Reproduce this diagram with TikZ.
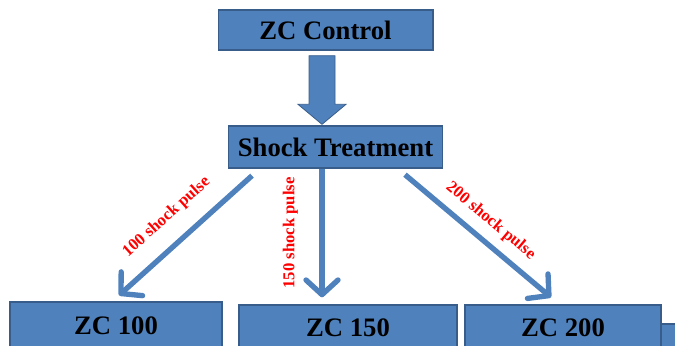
\documentclass[tikz,border=0pt]{standalone}
\usepackage{fontspec}
\setmainfont{Liberation Serif}
\usetikzlibrary{arrows.meta,calc}
\definecolor{boxblue}{RGB}{79,129,189}
\definecolor{edgeblue}{RGB}{56,93,138}
\tikzstyle{boxstyle} = [ font={\bfseries\fontsize{20}{24}\selectfont}, shape=rectangle, text=black, draw=edgeblue, line width=1pt, fill=boxblue, inner sep=0pt, align=center]
\tikzstyle{armstyle} = [ draw=boxblue, line width=4pt, -{Straight Barb[length=11pt,width=24pt,line width=4pt,round]}]
\tikzstyle{pulsestyle} = [ font={\bfseries\fontsize{12.5}{14}\selectfont}, text=red, inner sep=0pt]

\begin{document}
\begin{tikzpicture}[x=0.75pt,y=-0.75pt]
\clip (0,0) rectangle (675,346);

\node[boxstyle, minimum width=161pt, minimum height=30pt] (zcc) at (325.5,30) {ZC Control};
\node[boxstyle, minimum width=160.5pt, minimum height=31.5pt] (shock) at (335.5,147) {Shock Treatment};

\node[boxstyle, minimum width=159pt, minimum height=36pt] (zc100) at (116,326) {ZC 100};
\node[boxstyle, minimum width=163.5pt, minimum height=34.5pt] (zc150) at (348,328) {ZC 150};
\node[boxstyle, minimum width=147pt, minimum height=34.5pt] (zc200) at (563,328) {ZC 200};
\draw[draw=edgeblue, line width=1pt, fill=boxblue] (661,324) rectangle (680,352);

% block arrow
\coordinate (top) at ($(zcc.south)+(-3.5,5)$);
\coordinate (tip) at ($(shock.north)+(-13.5,-1)$);
\fill[boxblue, draw=edgeblue, line width=0.6pt] ($(top)+(-13,0)$) -- ($(top)+(13,0)$) -- ($(tip)+(13,-20)$) -- ($(tip)+(24,-20)$)
  -- (tip) -- ($(tip)+(-24,-20)$) -- ($(tip)+(-13,-20)$) -- cycle;

\draw[armstyle] ($(shock.south)+(-83.5,7)$) -- node[pulsestyle, sloped, pos=0.51, above=12pt] {100 shock pulse} ($(zc100.north)+(3,-6)$);
\draw[armstyle] ($(shock.south)+(-13.5,0)$) -- node[pulsestyle, rotate=90, pos=0.5, above=16pt] {150 shock pulse} ($(zc150.north)+(-26,-7)$);
\draw[armstyle] ($(shock.south)+(69.5,6)$) -- node[pulsestyle, sloped, pos=0.5, above=7pt] {200 shock pulse} ($(zc200.north)+(-12,-7)$);
\end{tikzpicture}
\end{document}
